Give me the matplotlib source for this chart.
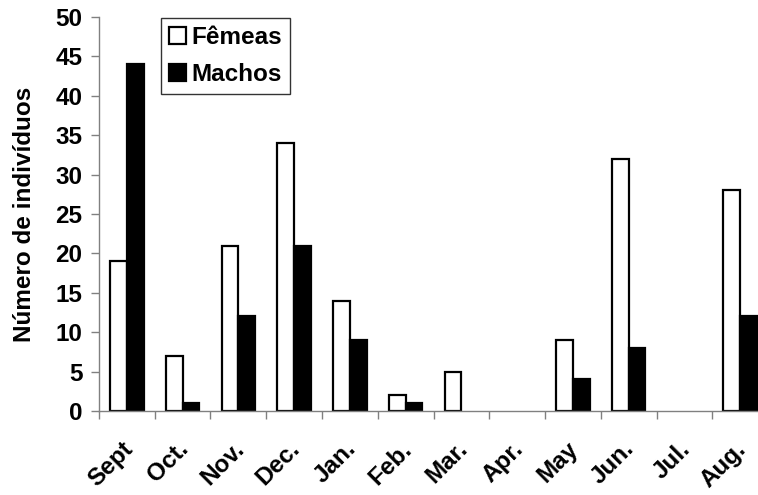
import matplotlib
matplotlib.use("Agg")
import matplotlib.pyplot as plt
import matplotlib.transforms as mtransforms
import numpy as np

months = ["Sept", "Oct.", "Nov.", "Dec.", "Jan.", "Feb.", "Mar.", "Apr.", "May", "Jun.", "Jul.", "Aug."]
femeas = [19, 7, 21, 34, 14, 2, 5, 0, 9, 32, 0, 28]
machos = [44, 1, 12, 21, 9, 1, 0, 0, 4, 8, 0, 12]
yticks = [0, 5, 10, 15, 20, 25, 30, 35, 40, 45, 50]

plt.rcParams['font.family'] = ['Liberation Sans', 'DejaVu Sans']
plt.rcParams['font.weight'] = 'bold'
FS = 17.5

fig = plt.figure(figsize=(7.58, 4.95), dpi=100)
ax = fig.add_axes([0.1306, 0.1697, 1.0132 - 0.1306, 0.9657 - 0.1697])

x = np.arange(len(months))
w = 0.3
axc = '#808080'
ax.bar(x - w/2, femeas, w, facecolor='white', edgecolor='black',
       linewidth=[1.6 if v > 0 else 0 for v in femeas], label='Fêmeas')
ax.bar(x + w/2, machos, w, facecolor='black', edgecolor='black',
       linewidth=[1.6 if v > 0 else 0 for v in machos], label='Machos')

ax.set_xlim(-0.5, len(months) - 0.5)
ax.set_ylim(0, 50)
ax.set_yticks(yticks)
ax.set_yticklabels([str(v) for v in yticks], fontsize=FS, fontweight='bold')
ax.set_xticks(np.arange(len(months) + 1) - 0.5)
ax.set_xticklabels([])
ax.set_xticks(x, minor=True)
ax.set_xticklabels(months, minor=True, rotation=45, ha='right', rotation_mode='anchor',
                   fontsize=FS, fontweight='bold')
ax.tick_params(axis='x', which='minor', length=0, pad=19)
ax.tick_params(axis='x', which='major', direction='out', length=6, color=axc, width=1)
ax.tick_params(axis='y', direction='out', length=6, color=axc, width=1, pad=6)

off = mtransforms.ScaledTranslation(-6/100, 0, fig.dpi_scale_trans)
for lab in ax.get_xticklabels(minor=True):
    lab.set_transform(lab.get_transform() + off)

for s in ['top', 'right']:
    ax.spines[s].set_visible(False)
for s in ['left', 'bottom']:
    ax.spines[s].set_color(axc)
    ax.spines[s].set_linewidth(1)

ax.set_ylabel('Número de indivíduos', fontsize=FS, fontweight='bold', labelpad=14)

leg = ax.legend(loc='upper left', bbox_to_anchor=(0.092, 0.998), fontsize=FS,
                frameon=True, fancybox=False, edgecolor='black', handlelength=0.7,
                handleheight=0.7, handletextpad=0.2, borderpad=0.35, labelspacing=0.55,
                borderaxespad=0)
leg.get_frame().set_linewidth(1)
for t in leg.get_texts():
    t.set_fontweight('bold')

fig.savefig('out.png', dpi=100)
